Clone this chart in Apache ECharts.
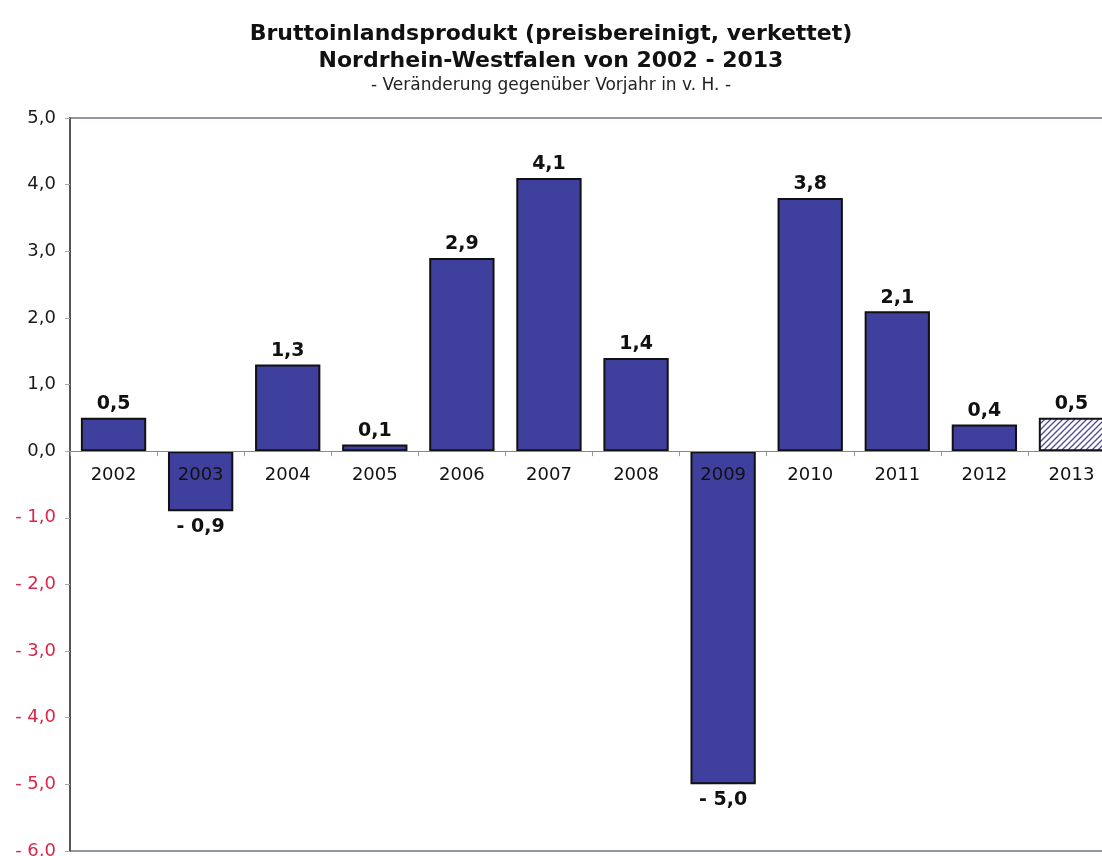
<!DOCTYPE html>
<html>
<head>
<meta charset="utf-8">
<script src="https://cdn.jsdelivr.net/npm/echarts@6/dist/echarts.min.js"></script>
<style>
  html, body { margin: 0; padding: 0; background: #fff; overflow: hidden; }
  #chart { width: 1102px; height: 856px; }
</style>
</head>
<body>
<div id="chart"></div>
<script>
var years = ['2002', '2003', '2004', '2005', '2006', '2007', '2008', '2009', '2010', '2011', '2012', '2013'];
var values = [0.5, -0.9, 1.3, 0.1, 2.9, 4.1, 1.4, -5.0, 3.8, 2.1, 0.4, 0.5];
var hatched = ['2013'];

var barColor = '#3f3f9d';
var font = 'DejaVu Sans, Liberation Sans, Arial';

// hatch pattern for the estimated year
function makeHatch() {
  var c = document.createElement('canvas');
  c.width = 6; c.height = 6;
  var ctx = c.getContext('2d');
  ctx.fillStyle = '#ffffff';
  ctx.fillRect(0, 0, 6, 6);
  ctx.strokeStyle = '#4a4aa0';
  ctx.lineWidth = 1.3;
  ctx.beginPath();
  ctx.moveTo(0, 6); ctx.lineTo(6, 0);
  ctx.moveTo(-3, 3); ctx.lineTo(3, -3);
  ctx.moveTo(3, 9); ctx.lineTo(9, 3);
  ctx.stroke();
  return c;
}

function fmt(v) {
  var s = Math.abs(v).toFixed(1).replace('.', ',');
  return v < 0 ? '- ' + s : s;
}

var chart = echarts.init(document.getElementById('chart'));
var hatch = makeHatch();

var data = values.map(function (v, i) {
  var item = {
    value: v,
    label: { position: v < 0 ? 'bottom' : 'top', distance: v < 0 ? 6 : 4 }
  };
  if (hatched.indexOf(years[i]) >= 0) {
    item.itemStyle = { color: { image: hatch, repeat: 'repeat' } };
  }
  return item;
});

var option = {
  backgroundColor: '#fff',
  animation: false,
  title: {
    text: 'Bruttoinlandsprodukt (preisbereinigt, verkettet)\nNordrhein-Westfalen von 2002 - 2013',
    subtext: '- Veränderung gegenüber Vorjahr in v. H. -',
    left: 'center',
    top: 16,
    itemGap: 2,
    textStyle: { fontFamily: font, fontSize: 22, fontWeight: 'bold', color: '#111', lineHeight: 27 },
    subtextStyle: { fontFamily: font, fontSize: 17, color: '#222' }
  },
  grid: {
    left: 70, right: -13, top: 118, bottom: 5,
    containLabel: false,
    outerBoundsMode: 'none',
    show: true, borderColor: '#6f7680', borderWidth: 1.5
  },
  xAxis: {
    type: 'category',
    data: years,
    axisLine: { onZero: true, lineStyle: { color: '#888', width: 1 } },
    axisTick: { show: true, length: 5, lineStyle: { color: '#999' } },
    axisLabel: { show: false },
    z: 5
  },
  yAxis: {
    type: 'value',
    min: -6, max: 5, interval: 1,
    axisLine: { show: true, lineStyle: { color: '#555', width: 2 } },
    axisTick: { show: true, length: 5, lineStyle: { color: '#aaa' } },
    splitLine: { show: false },
    axisLabel: {
      fontFamily: font, fontSize: 18, margin: 14,
      formatter: fmt,
      color: function (v) { return v < 0 ? '#d9264a' : '#1a1a1a'; }
    }
  },
  series: [{
    type: 'bar',
    data: data,
    barCategoryGap: '25%',
    itemStyle: { color: barColor, borderColor: '#111', borderWidth: 2 },
    label: {
      show: true,
      formatter: function (p) { return fmt(p.value); },
      fontFamily: font, fontSize: 19, fontWeight: 'bold', color: '#111'
    }
  }, {
    // year labels sitting just below the zero line, on top of the bars
    type: 'scatter',
    data: years.map(function () { return 0; }),
    symbolSize: 0,
    silent: true,
    z: 10,
    label: {
      show: true,
      position: 'bottom',
      distance: 15,
      formatter: function (p) { return years[p.dataIndex]; },
      fontFamily: font, fontSize: 18, color: '#111', opacity: 1
    }
  }]
};

chart.setOption(option);
</script>
</body>
</html>
